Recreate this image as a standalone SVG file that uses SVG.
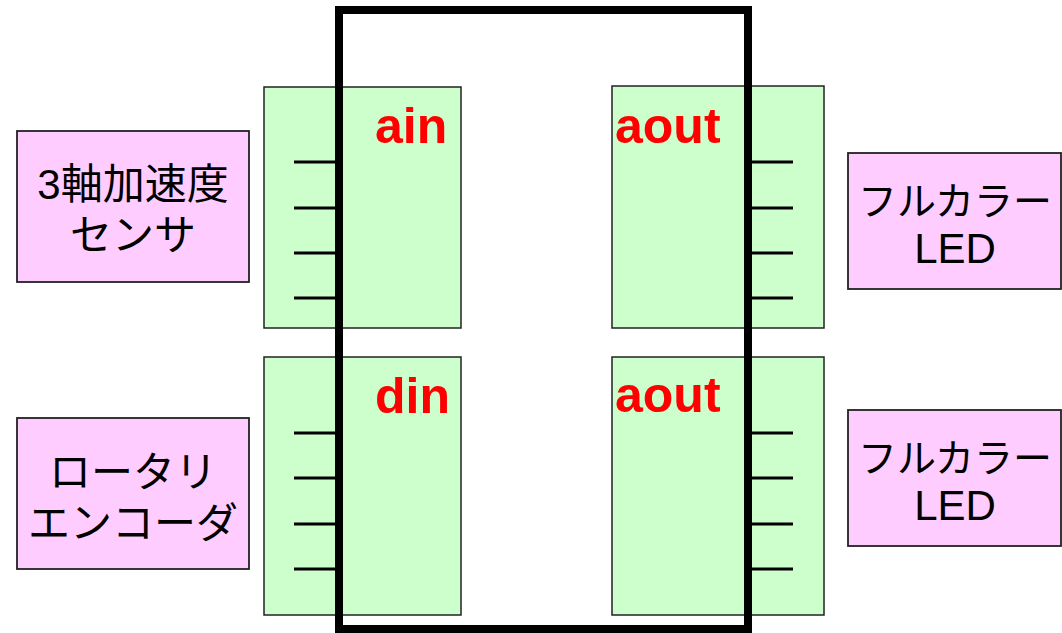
<svg xmlns="http://www.w3.org/2000/svg" width="1062" height="633" viewBox="0 0 1062 633">
<style>
.port{fill:#CCFFCC;stroke:#222;stroke-width:1.5}
.dev{fill:#FFCCFF;stroke:#222;stroke-width:1.8}
.pin{stroke:#000;stroke-width:3;fill:none}
.chip{fill:none;stroke:#000;stroke-width:8}
.lbl{font-family:"Liberation Sans",Arial,sans-serif;font-weight:bold;font-size:50px;fill:#FF0000}
.jp{font-family:"Liberation Sans","Noto Sans CJK JP",sans-serif;font-size:42px;fill:#000;text-anchor:middle}
.jr{font-size:39px}
</style>
<rect width="1062" height="633" fill="#fff"/>
<g id="port-ain"><rect class="port" x="264" y="87" width="197" height="241"/><text class="lbl" x="375" y="143">ain</text></g>
<g id="port-din"><rect class="port" x="264" y="357" width="197" height="258"/><text class="lbl" x="375" y="413">din</text></g>
<g id="port-aout1"><rect class="port" x="612" y="86" width="212" height="242"/><text class="lbl" x="615" y="143">aout</text></g>
<g id="port-aout2"><rect class="port" x="612" y="357" width="212" height="258"/><text class="lbl" x="615" y="412">aout</text></g>
<g id="chip"><rect class="chip" x="339" y="10" width="409" height="619"/></g>
<g id="connectors">
<path class="pin" d="M294 162H339M294 208H339M294 253H339M294 298H339"/>
<path class="pin" d="M294 433H339M294 478H339M294 524H339M294 569H339"/>
<path class="pin" d="M748 162H793M748 208H793M748 253H793M748 298H793"/>
<path class="pin" d="M748 433H793M748 478H793M748 524H793M748 569H793"/>
</g>
<g id="dev-accel"><rect class="dev" x="17" y="131" width="232" height="151"/><text class="jp" x="133" y="199">3軸加速度</text><text class="jp" x="133" y="250">センサ</text></g>
<g id="dev-encoder"><rect class="dev" x="17" y="418" width="232" height="151"/><text class="jp" x="133" y="487">ロータリ</text><text class="jp" x="133" y="538">エンコーダ</text></g>
<g id="dev-led1"><rect class="dev" x="848" y="153" width="213" height="136"/><text class="jp jr" x="955" y="215">フルカラー</text><text class="jp" x="955" y="263">LED</text></g>
<g id="dev-led2"><rect class="dev" x="848" y="410" width="213" height="136"/><text class="jp jr" x="955" y="472">フルカラー</text><text class="jp" x="955" y="520">LED</text></g>
</svg>
